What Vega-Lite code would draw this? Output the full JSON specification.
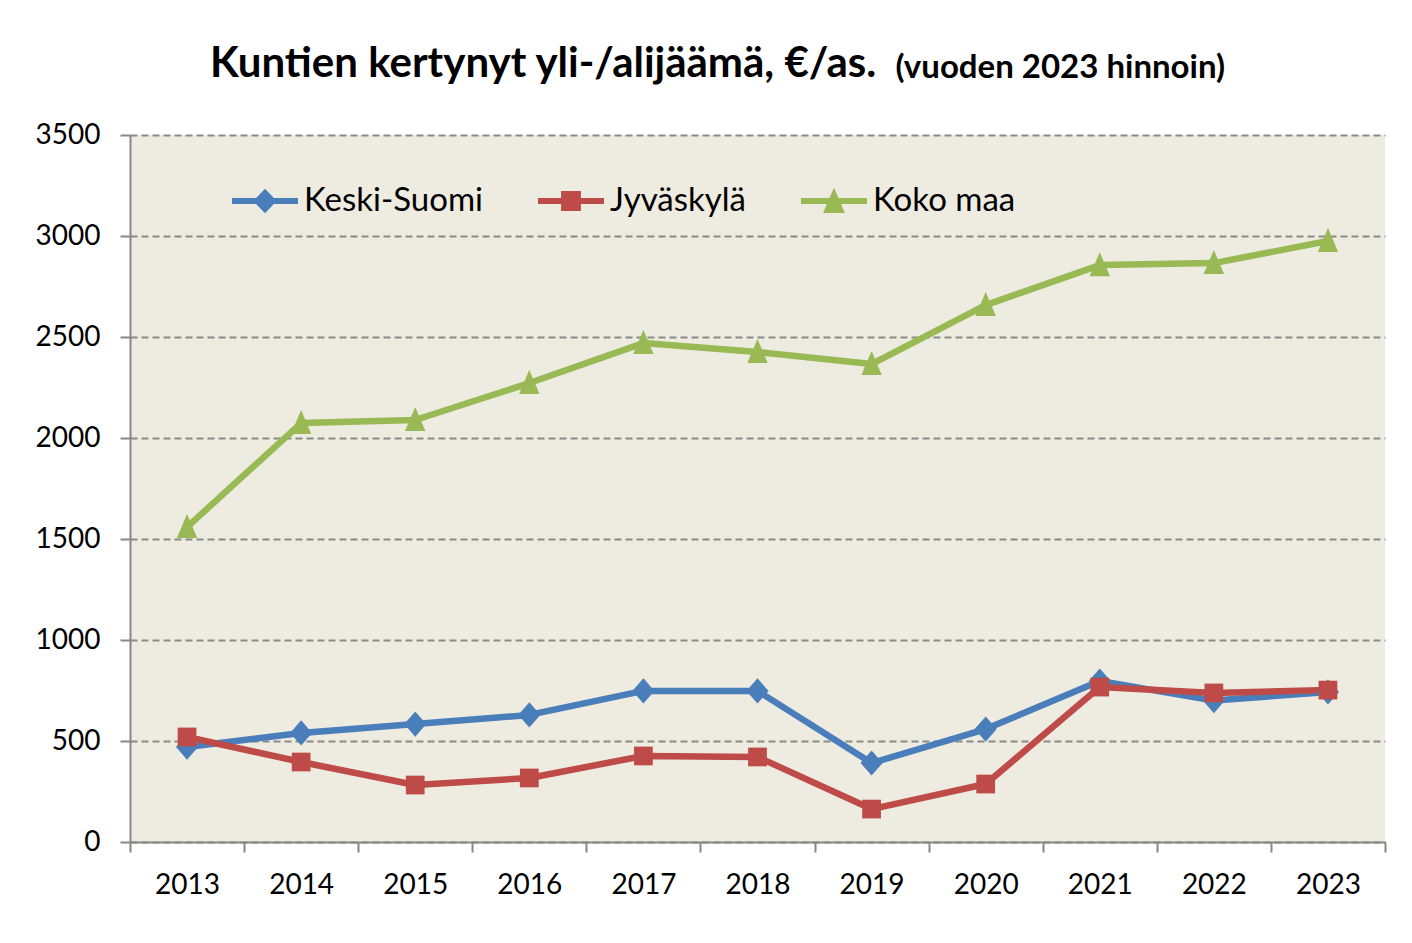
{
  "$schema": "https://vega.github.io/schema/vega-lite/v6.json",
  "width": 1255,
  "height": 707,
  "autosize": {"type": "none"},
  "padding": {"left": 130, "top": 135, "right": 27, "bottom": 101},
  "background": "white",
  "title": {
    "text": "Kuntien kertynyt yli-/alijäämä, €/as.",
    "anchor": "start",
    "frame": "group",
    "dx": 80,
    "offset": -68,
    "baseline": "alphabetic",
    "font": "Lato",
    "fontSize": 42,
    "fontWeight": "bold",
    "color": "black"
  },
  "config": {
    "view": {"fill": "#EEEBE0", "stroke": null},
    "legend": {"padding": 0}
  },
  "data": {
    "values": [
      {"vuosi": "2013", "sarja": "Keski-Suomi", "arvo": 470},
      {"vuosi": "2014", "sarja": "Keski-Suomi", "arvo": 540},
      {"vuosi": "2015", "sarja": "Keski-Suomi", "arvo": 584},
      {"vuosi": "2016", "sarja": "Keski-Suomi", "arvo": 629},
      {"vuosi": "2017", "sarja": "Keski-Suomi", "arvo": 748},
      {"vuosi": "2018", "sarja": "Keski-Suomi", "arvo": 748},
      {"vuosi": "2019", "sarja": "Keski-Suomi", "arvo": 391},
      {"vuosi": "2020", "sarja": "Keski-Suomi", "arvo": 559},
      {"vuosi": "2021", "sarja": "Keski-Suomi", "arvo": 797},
      {"vuosi": "2022", "sarja": "Keski-Suomi", "arvo": 700},
      {"vuosi": "2023", "sarja": "Keski-Suomi", "arvo": 743},
      {"vuosi": "2013", "sarja": "Jyväskylä", "arvo": 520},
      {"vuosi": "2014", "sarja": "Jyväskylä", "arvo": 396},
      {"vuosi": "2015", "sarja": "Jyväskylä", "arvo": 282},
      {"vuosi": "2016", "sarja": "Jyväskylä", "arvo": 317},
      {"vuosi": "2017", "sarja": "Jyväskylä", "arvo": 426},
      {"vuosi": "2018", "sarja": "Jyväskylä", "arvo": 421},
      {"vuosi": "2019", "sarja": "Jyväskylä", "arvo": 163},
      {"vuosi": "2020", "sarja": "Jyväskylä", "arvo": 287},
      {"vuosi": "2021", "sarja": "Jyväskylä", "arvo": 767},
      {"vuosi": "2022", "sarja": "Jyväskylä", "arvo": 738},
      {"vuosi": "2023", "sarja": "Jyväskylä", "arvo": 752},
      {"vuosi": "2013", "sarja": "Koko maa", "arvo": 1559},
      {"vuosi": "2014", "sarja": "Koko maa", "arvo": 2074},
      {"vuosi": "2015", "sarja": "Koko maa", "arvo": 2089},
      {"vuosi": "2016", "sarja": "Koko maa", "arvo": 2272},
      {"vuosi": "2017", "sarja": "Koko maa", "arvo": 2470},
      {"vuosi": "2018", "sarja": "Koko maa", "arvo": 2426},
      {"vuosi": "2019", "sarja": "Koko maa", "arvo": 2366},
      {"vuosi": "2020", "sarja": "Koko maa", "arvo": 2658},
      {"vuosi": "2021", "sarja": "Koko maa", "arvo": 2856},
      {"vuosi": "2022", "sarja": "Koko maa", "arvo": 2866},
      {"vuosi": "2023", "sarja": "Koko maa", "arvo": 2975}
    ]
  },
  "encoding": {
    "x": {
      "field": "vuosi",
      "type": "ordinal",
      "scale": {"type": "band", "paddingInner": 0, "paddingOuter": 0},
      "axis": {
        "title": null,
        "labelAngle": 0,
        "tickBand": "extent",
        "grid": false,
        "domainColor": "#878787",
        "domainWidth": 2,
        "tickColor": "#878787",
        "tickWidth": 2,
        "tickSize": 10,
        "labelFont": "Lato",
        "labelFontSize": 28,
        "labelColor": "black",
        "labelPadding": 19
      }
    },
    "y": {
      "field": "arvo",
      "type": "quantitative",
      "scale": {"domain": [0, 3500], "nice": false},
      "axis": {
        "values": [0, 500, 1000, 1500, 2000, 2500, 3000, 3500],
        "format": "d",
        "title": "(vuoden 2023 hinnoin)",
        "titleAngle": 0,
        "titleX": 765,
        "titleY": -58,
        "titleAlign": "left",
        "titleBaseline": "alphabetic",
        "titleFont": "Lato",
        "titleFontSize": 33,
        "titleFontWeight": "bold",
        "titleColor": "black",
        "grid": true,
        "gridColor": "#8A8A8A",
        "gridWidth": 2,
        "gridDash": [7, 4],
        "domainColor": "#878787",
        "domainWidth": 2,
        "tickColor": "#878787",
        "tickWidth": 2,
        "tickSize": 10,
        "labelFont": "Lato",
        "labelFontSize": 28,
        "labelColor": "black",
        "labelPadding": 20
      }
    },
    "color": {
      "field": "sarja",
      "type": "nominal",
      "scale": {
        "domain": ["Keski-Suomi", "Jyväskylä", "Koko maa"],
        "range": ["#4A7EBB", "#BE4B48", "#98B954"]
      },
      "legend": {
        "title": null,
        "orient": "none",
        "legendX": 102,
        "legendY": 33,
        "direction": "horizontal",
        "labelFont": "Lato",
        "labelFontSize": 33,
        "labelColor": "black",
        "labelLimit": 0,
        "labelOffset": 6,
        "columnPadding": 54,
        "symbolSize": 4356,
        "symbolOpacity": 1,
        "symbolStrokeWidth": 0,
        "symbolType": {"expr": "datum.value === 'Keski-Suomi' ? 'M-1,-0.09L-0.27,-0.09L0,-0.37L0.27,-0.09L1,-0.09L1,0.09L0.27,0.09L0,0.37L-0.27,0.09L-1,0.09Z' : datum.value === 'Koko maa' ? 'M-1,-0.09L-0.136,-0.09L0,-0.4L0.136,-0.09L1,-0.09L1,0.09L0.216,0.09L0.33,0.36L-0.33,0.36L-0.216,0.09L-1,0.09Z' : 'M-1,-0.09L-0.3,-0.09L-0.3,-0.3L0.3,-0.3L0.3,-0.09L1,-0.09L1,0.09L0.3,0.09L0.3,0.3L-0.3,0.3L-0.3,0.09L-1,0.09Z'"},
        "symbolFillColor": {"expr": "scale('color', datum.value)"}
      }
    }
  },
  "layer": [
    {"mark": {"type": "line", "strokeWidth": 6.5, "strokeJoin": "round"}},
    {
      "transform": [{"filter": "datum.sarja === 'Keski-Suomi'"}],
      "mark": {"type": "point", "filled": true, "size": 576, "opacity": 1, "strokeWidth": 0, "shape": "M0,-1.05L0.92,0L0,1.05L-0.92,0Z"}
    },
    {
      "transform": [{"filter": "datum.sarja === 'Jyväskylä'"}],
      "mark": {"type": "point", "filled": true, "size": 576, "opacity": 1, "strokeWidth": 0, "shape": "M-0.78,-0.78L0.78,-0.78L0.78,0.78L-0.78,0.78Z"}
    },
    {
      "transform": [{"filter": "datum.sarja === 'Koko maa'"}],
      "mark": {"type": "point", "filled": true, "size": 576, "opacity": 1, "strokeWidth": 0, "shape": "M0,-1.08L0.85,0.92L-0.85,0.92Z"}
    }
  ]
}
